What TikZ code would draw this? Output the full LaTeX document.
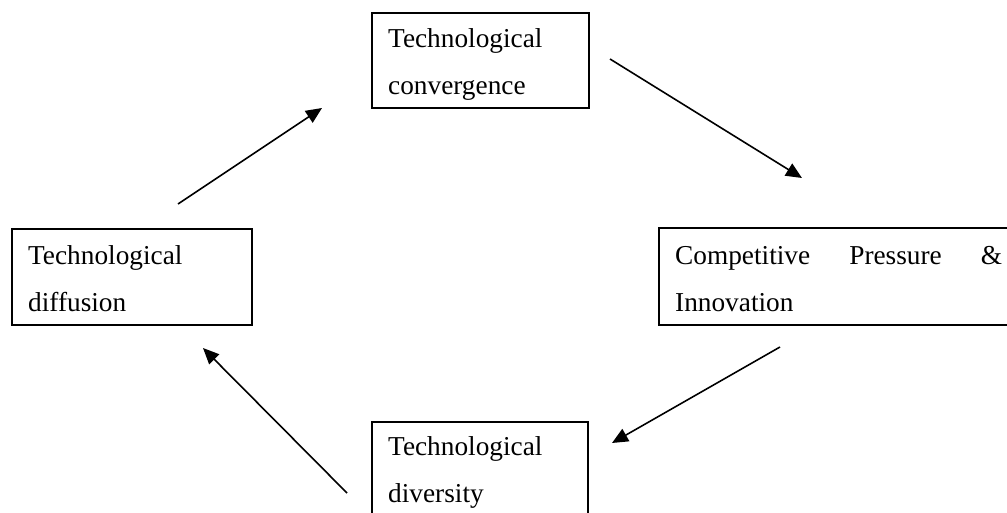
\documentclass[tikz,border=0pt]{standalone}
\usepackage{fontspec}
\setmainfont{Liberation Serif}
\usetikzlibrary{arrows.meta}
\begin{document}
\begin{tikzpicture}[x=1pt,y=-1pt,
  boxnode/.style={draw=black, line width=2.2pt, inner sep=0pt, anchor=north west},
  label/.style={anchor=base west, inner sep=0pt, align=left, text width=200pt, font=\fontsize{27.3}{47}\selectfont},
  flow/.style={line width=1.6pt, -{Triangle[length=16pt,width=14pt]}}]
\useasboundingbox (0,0) rectangle (1007,513);
\clip (0,0) rectangle (1007,513);
% boxes
\node[boxnode, minimum width=217pt, minimum height=95pt] (conv) at (371,12) {};
\node[boxnode, minimum width=240pt, minimum height=96pt] (diff) at (11,228) {};
\node[boxnode, minimum width=380pt, minimum height=97pt] (comp) at (658,227) {};
\node[boxnode, minimum width=216pt, minimum height=120pt] (div) at (371,421) {};
% texts
\node[label] (convt) at ([shift={(17,36)}]conv.north west) {Technological\\convergence};
\node[label] (difft) at ([shift={(17,37)}]diff.north west) {Technological\\diffusion};
\node[label, text width=327pt] (compt) at ([shift={(17,38)}]comp.north west) {Competitive\hfill Pressure\hfill \&\\Innovation};
\node[label] (divt) at ([shift={(17,34)}]div.north west) {Technological\\diversity};
% arrow end points
\coordinate (a1s) at (178,204); \coordinate (a1e) at (322,108);
\coordinate (a2s) at (610,59);  \coordinate (a2e) at (802,178);
\coordinate (a3s) at (780,347); \coordinate (a3e) at (612,443);
\coordinate (a4s) at (347,493); \coordinate (a4e) at (203,348);
\draw[flow] (a1s) -- (a1e);
\draw[flow] (a2s) -- (a2e);
\draw[flow] (a3s) -- (a3e);
\draw[flow] (a4s) -- (a4e);
\end{tikzpicture}
\end{document}
